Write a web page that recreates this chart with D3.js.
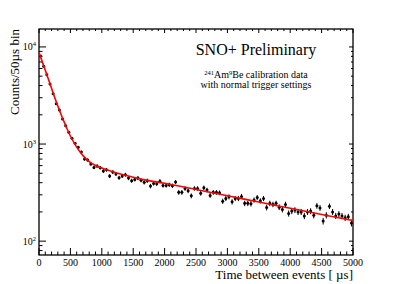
<!DOCTYPE html>
<html>
<head>
<meta charset="utf-8">
<script src="https://cdn.jsdelivr.net/npm/d3@7"></script>
<style>
  body { margin: 0; background: #fff; }
  svg text { font-family: "Liberation Serif", "DejaVu Serif", serif; fill: #000; }
</style>
</head>
<body>
<div id="chart"></div>
<script>

// bin centres (50 us bins) and counts
var binWidth = 50;
var counts = [
  8080, 6330, 5180, 4155, 3300, 2600, 2240, 1810, 1545, 1320,
  1145, 1017, 925, 827, 700, 684, 622, 575, 593, 570,
  527, 543, 468, 514, 491, 450, 468, 483, 446, 419,
  432, 446, 425, 403, 419, 369, 393, 390, 415, 375,
  375, 381, 372, 406, 318, 318, 349, 330, 293, 349,
  349, 312, 355, 336, 296, 318, 318, 315, 258, 275,
  286, 254, 275, 275, 289, 245, 245, 243, 265, 282,
  260, 275, 222, 245, 239, 245, 224, 212, 239, 193,
  204, 209, 200, 200, 182, 200, 204, 185, 231, 220,
  161, 185, 229, 200, 182, 190, 182, 174, 178, 154
];

// red fit curve
var fitTimes  = [0, 50, 100, 150, 200, 250, 300, 350, 400, 450, 500, 600, 700, 800, 900, 1000, 1250, 1500, 1750, 2000, 2500, 3000, 3500, 4000, 4500, 5000];
var fitCounts = [8750, 7100, 5750, 4650, 3750, 3020, 2470, 2030, 1690, 1420, 1210, 930, 760, 660, 600, 565, 500, 455, 420, 395, 340, 293, 253, 218, 188, 163];

var xTicks = [0, 500, 1000, 1500, 2000, 2500, 3000, 3500, 4000, 4500, 5000];
var yDecades = [100, 1000, 10000];

var width = 394, height = 284;
// frame edges (note: "top" is reserved on window, so prefix them)
var fLeft = 39, fRight = 353, fTop = 29, fBottom = 255;

var svg = d3.select('#chart').append('svg')
  .attr('width', width)
  .attr('height', height);

var x = d3.scaleLinear().domain([0, 5000]).range([fLeft, fRight]);
var y = d3.scaleLog().domain([72, 15300]).range([fBottom, fTop]);

// minor ticks: every 100 us on x, 2..9 per decade on y
var xMinor = d3.range(0, 5001, 100).filter(function (t) { return t % 500 !== 0; });
var yMinor = [];
[10, 100, 1000, 10000].forEach(function (d) {
  for (var k = 2; k <= 9; k++) {
    var v = d * k;
    if (v >= 72 && v <= 15300) yMinor.push(v);
  }
});

var ticks = svg.append('g').attr('stroke', '#000').attr('stroke-width', 1);

function tickLines(data, fn, cls) {
  ticks.append('g').attr('class', cls)
    .selectAll('line')
    .data(data)
    .enter()
    .append('line')
    .each(fn);
}

// bottom / top
tickLines(xTicks, function (t) {
  d3.select(this).attr('x1', x(t)).attr('x2', x(t)).attr('y1', fBottom).attr('y2', fBottom - 7);
}, 'xMajB');
tickLines(xMinor, function (t) {
  d3.select(this).attr('x1', x(t)).attr('x2', x(t)).attr('y1', fBottom).attr('y2', fBottom - 3.5);
}, 'xMinB');
tickLines(xTicks, function (t) {
  d3.select(this).attr('x1', x(t)).attr('x2', x(t)).attr('y1', fTop).attr('y2', fTop + 4);
}, 'xMajT');
tickLines(xMinor, function (t) {
  d3.select(this).attr('x1', x(t)).attr('x2', x(t)).attr('y1', fTop).attr('y2', fTop + 2);
}, 'xMinT');

// left / right
tickLines(yDecades, function (v) {
  d3.select(this).attr('x1', fLeft).attr('x2', fLeft + 7).attr('y1', y(v)).attr('y2', y(v));
}, 'yMajL');
tickLines(yMinor, function (v) {
  d3.select(this).attr('x1', fLeft).attr('x2', fLeft + 3.5).attr('y1', y(v)).attr('y2', y(v));
}, 'yMinL');
tickLines(yDecades, function (v) {
  d3.select(this).attr('x1', fRight).attr('x2', fRight - 4).attr('y1', y(v)).attr('y2', y(v));
}, 'yMajR');
tickLines(yMinor, function (v) {
  d3.select(this).attr('x1', fRight).attr('x2', fRight - 2).attr('y1', y(v)).attr('y2', y(v));
}, 'yMinR');

// frame
svg.append('rect')
  .attr('x', fLeft).attr('y', fTop)
  .attr('width', fRight - fLeft).attr('height', fBottom - fTop)
  .attr('fill', 'none').attr('stroke', '#000').attr('stroke-width', 1.3);

// tick labels
svg.append('g')
  .selectAll('text')
  .data(xTicks)
  .enter()
  .append('text')
  .attr('x', function (t) { return x(t); })
  .attr('y', 266)
  .attr('text-anchor', 'middle')
  .attr('font-size', 10)
  .text(function (t) { return t; });

var yLab = svg.append('g')
  .selectAll('text')
  .data(yDecades)
  .enter()
  .append('text')
  .attr('x', 36)
  .attr('y', function (v) { return y(v) + 3.5; })
  .attr('text-anchor', 'end')
  .attr('font-size', 10);
yLab.append('tspan').text('10');
yLab.append('tspan')
  .attr('dy', -4)
  .attr('font-size', 6.5)
  .text(function (v) { return Math.round(Math.log10(v)); });

// data points with poisson error bars
var pts = counts.map(function (c, i) { return { t: binWidth / 2 + i * binWidth, c: c }; });

svg.append('g')
  .attr('stroke', '#000')
  .selectAll('line')
  .data(pts)
  .enter()
  .append('line')
  .attr('x1', function (d) { return x(d.t); })
  .attr('x2', function (d) { return x(d.t); })
  .attr('y1', function (d) { return y(d.c + Math.sqrt(d.c)); })
  .attr('y2', function (d) { return y(d.c - Math.sqrt(d.c)); })
  .attr('stroke-width', 1);

svg.append('g')
  .selectAll('circle')
  .data(pts)
  .enter()
  .append('circle')
  .attr('cx', function (d) { return x(d.t); })
  .attr('cy', function (d) { return y(d.c); })
  .attr('r', 1.5)
  .attr('fill', '#000');

// fit curve
var fit = fitTimes.map(function (t, i) { return [t, fitCounts[i]]; });
svg.append('path')
  .datum(fit)
  .attr('fill', 'none')
  .attr('stroke', '#ff0000')
  .attr('stroke-width', 1.6)
  .attr('d', d3.line()
    .x(function (d) { return x(d[0]); })
    .y(function (d) { return y(d[1]); })
    .curve(d3.curveMonotoneX));

// axis titles
svg.append('text')
  .attr('x', fRight)
  .attr('y', 279)
  .attr('text-anchor', 'end')
  .attr('font-size', 13)
  .text('Time between events [ \u00b5s]');

svg.append('text')
  .attr('transform', 'translate(19,' + fTop + ') rotate(-90)')
  .attr('text-anchor', 'end')
  .attr('font-size', 13)
  .text('Counts/50\u00b5s bin');

// labels inside the frame
svg.append('text')
  .attr('x', 256)
  .attr('y', 55)
  .attr('text-anchor', 'middle')
  .attr('font-size', 16)
  .text('SNO+ Preliminary');

var line1 = svg.append('text')
  .attr('x', 256)
  .attr('y', 78)
  .attr('text-anchor', 'middle')
  .attr('font-size', 10);
line1.append('tspan').attr('font-size', 6.5).attr('dy', -3.5).text('241');
line1.append('tspan').attr('dy', 3.5).text('Am');
line1.append('tspan').attr('font-size', 6.5).attr('dy', -3.5).text('9');
line1.append('tspan').attr('dy', 3.5).text('Be calibration data');

svg.append('text')
  .attr('x', 256)
  .attr('y', 87.5)
  .attr('text-anchor', 'middle')
  .attr('font-size', 10)
  .text('with normal trigger settings');

</script>
</body>
</html>
